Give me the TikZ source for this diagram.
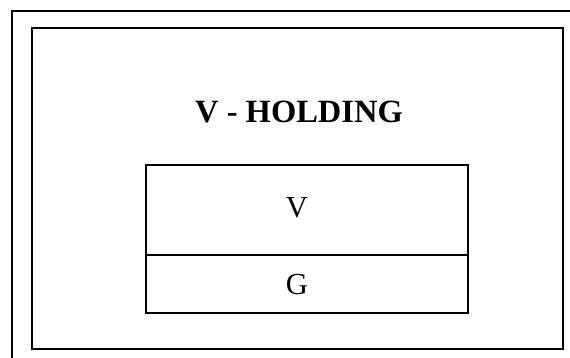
\documentclass[tikz,border=0pt]{standalone}
\usepackage{fontspec}
\setmainfont{Liberation Serif}
\begin{document}
\begin{tikzpicture}[x=1pt,y=-1pt,
  frameline/.style={draw=black,line width=2pt},
  cell/.style={draw=black,line width=2pt,minimum width=322pt,inner sep=0pt,anchor=north west},
  titletext/.style={font=\fontsize{32.5}{32.5}\selectfont\bfseries,inner sep=0pt},
  celltext/.style={font=\fontsize{30.5}{30.5}\selectfont,inner sep=0pt}]
\useasboundingbox (0,0) rectangle (570,358);
\begin{scope}
\clip (0,0) rectangle (570,358);
\coordinate (ob) at (12,370);
\coordinate (otl) at (12,11);
\coordinate (or) at (580,11);
\draw[frameline] (ob) -- (otl) -- (or);
\end{scope}
\node[frameline,minimum width=531pt,minimum height=321pt,inner sep=0pt,anchor=north west] (inner) at (31,27) {};
\node[titletext] (title) at (299,112) {V - HOLDING};
\node[cell,minimum height=90pt] (vcell) at (145,164) {};
\node[cell,minimum height=58pt] (gcell) at (145,254) {};
\node[celltext] (vtext) at (297,208) {V};
\node[celltext] (gtext) at (297,285) {G};
\end{tikzpicture}
\end{document}
